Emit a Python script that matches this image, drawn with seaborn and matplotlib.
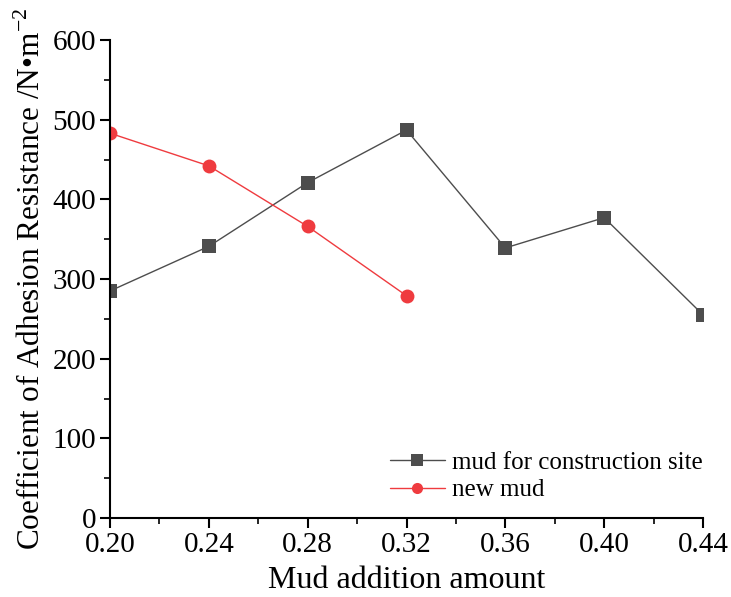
import numpy as np
import pandas as pd
import matplotlib
matplotlib.use("Agg")
import matplotlib.pyplot as plt
import seaborn as sns
from matplotlib.ticker import MultipleLocator, FormatStrFormatter

# Mud addition amounts and measured adhesion resistance coefficients
site_x = [0.20, 0.24, 0.28, 0.32, 0.36, 0.40, 0.44]
site_y = [285, 341, 421, 487, 339, 377, 255]
new_x = [0.20, 0.24, 0.28, 0.32]
new_y = [483, 442, 366, 279]
series_names = ["mud for construction site", "new mud"]

df = pd.concat([
    pd.DataFrame({"x": site_x, "y": site_y, "series": series_names[0]}),
    pd.DataFrame({"x": new_x, "y": new_y, "series": series_names[1]}),
])

sns.set_theme(style="ticks")
plt.rcParams["font.family"] = ["Liberation Serif", "DejaVu Serif"]
plt.rcParams["mathtext.fontset"] = "custom"
plt.rcParams["mathtext.rm"] = "Liberation Serif"
plt.rcParams["text.color"] = "black"
plt.rcParams["axes.labelcolor"] = "black"

fig = plt.figure(figsize=(7.31, 5.97), dpi=100)
ax = fig.add_axes([0.1505, 0.1323, 0.8112, 0.8007])

palette = {series_names[0]: "#4d4d4d", series_names[1]: "#ef3b3f"}
sns.lineplot(data=df, x="x", y="y", hue="series", style="series",
             markers={series_names[0]: "s", series_names[1]: "o"},
             dashes=False, palette=palette, linewidth=1.0,
             markersize=10, markeredgewidth=0, ax=ax)

ax.set_xlim(0.20, 0.44)
ax.set_ylim(0, 600)
ax.xaxis.set_major_locator(MultipleLocator(0.04))
ax.xaxis.set_minor_locator(MultipleLocator(0.02))
ax.xaxis.set_major_formatter(FormatStrFormatter("%.2f"))
ax.yaxis.set_major_locator(MultipleLocator(100))
ax.yaxis.set_minor_locator(MultipleLocator(50))

sns.despine(ax=ax)
for s in ("left", "bottom"):
    ax.spines[s].set_linewidth(1.5)
    ax.spines[s].set_color("black")
ax.tick_params(which="major", direction="out", length=7, width=1.5,
               labelsize=21, colors="black", pad=3)
ax.tick_params(which="minor", direction="out", length=4, width=1.2,
               colors="black")

ax.set_xlabel("Mud addition amount", fontsize=23, labelpad=6)
ax.set_ylabel(r"Coefficient of Adhesion Resistance /N•m$^{-2}$",
              fontsize=22.5, labelpad=4)

leg = ax.legend(loc="lower left", bbox_to_anchor=(0.472, 0.035),
                frameon=False, fontsize=18, handlelength=2.2,
                handletextpad=0.3, borderpad=0, borderaxespad=0,
                labelspacing=0.2)
for h in leg.legend_handles:
    h.set_markersize(8)
    h.set_linewidth(1.0)

fig.savefig("out.png", dpi=100)
